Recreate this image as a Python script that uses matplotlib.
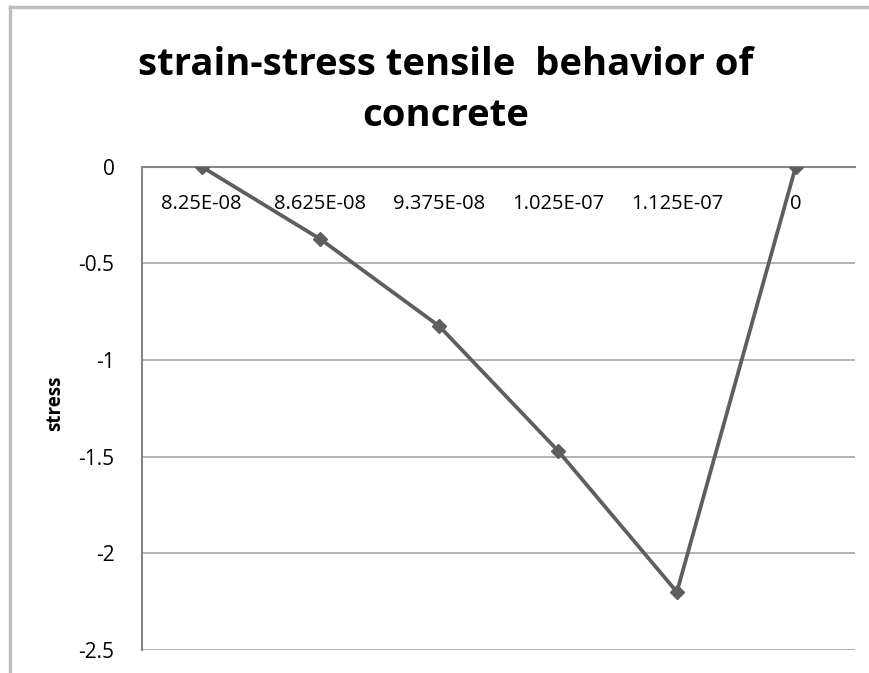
import matplotlib
matplotlib.use("Agg")
from matplotlib import pyplot as plt
from matplotlib.lines import Line2D

# data
strain_labels = ["8.25E-08", "8.625E-08", "9.375E-08", "1.025E-07", "1.125E-07", "0"]
stress = [0, -0.375, -0.825, -1.47, -2.2, 0]
yticks = [0, -0.5, -1, -1.5, -2, -2.5]

plt.rcParams['font.family'] = ['Open Sans', 'DejaVu Sans']

fig = plt.figure(figsize=(8.69, 6.73), dpi=100)
ax = fig.add_axes([0.1637, 0.0342, 0.8203, 0.7181])

x = list(range(len(stress)))
ax.plot(x, stress, color="#5e5e5e", linewidth=2.7, marker="D",
        markersize=7, zorder=3)

ax.set_xlim(-0.5, len(stress) - 0.5)
ax.set_ylim(-2.5, 0)
ax.set_yticks(yticks)
ax.set_yticklabels([f"{v:g}" for v in yticks])
ax.yaxis.grid(True, color="#a6a6a6", linewidth=1.2)
ax.set_axisbelow(True)

# category axis sits at y = 0 (top), labels just below it
ax.set_xticks(x)
ax.set_xticklabels(strain_labels)
ax.xaxis.set_ticks_position('top')
ax.tick_params(axis='x', length=0, pad=-34, labelsize=14.5)
ax.tick_params(axis='y', length=0, pad=20, labelsize=15)

for side in ["right", "bottom"]:
    ax.spines[side].set_visible(False)
ax.spines["left"].set_color("#868686")
ax.spines["top"].set_color("#868686")
ax.spines["left"].set_linewidth(1.5)
ax.spines["top"].set_linewidth(1.5)

ax.set_ylabel("stress", fontsize=13.5, fontweight="bold")
ax.yaxis.set_label_coords(-0.108, 0.51)

fig.text(0.513, 0.866, "strain-stress tensile  behavior of\nconcrete",
         ha="center", va="center", fontsize=27.5, fontweight="bold",
         linespacing=1.45)

# outer chart frame (left and top edges visible)
fig.add_artist(Line2D([10 / 869, 10 / 869], [0, 1 - 7 / 673],
                      transform=fig.transFigure, color="#bfbfbf", linewidth=2.5))
fig.add_artist(Line2D([10 / 869, 1], [1 - 7 / 673, 1 - 7 / 673],
                      transform=fig.transFigure, color="#bfbfbf", linewidth=2.5))

fig.savefig("out.png", dpi=100)
